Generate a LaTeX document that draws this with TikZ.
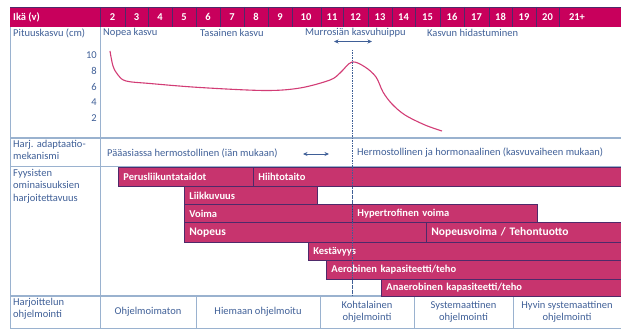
\documentclass[tikz,border=0pt]{standalone}
\usepackage{fontspec}
\setmainfont{Carlito}
\usetikzlibrary{arrows.meta}
\definecolor{hdr}{HTML}{C8005C}
\definecolor{barfill}{HTML}{C7346E}
\definecolor{barline}{HTML}{4E2A6A}
\definecolor{gridc}{HTML}{9AB2CF}
\definecolor{txt}{HTML}{3F5F97}
\definecolor{curvec}{HTML}{D23C75}
\begin{document}
\begin{tikzpicture}[x=1pt,y=-1pt,
  lbl/.style={font=\fontsize{10.5}{12.5}\selectfont, text=txt, inner sep=0pt},
  hnum/.style={font=\fontsize{10.5}{12}\selectfont\bfseries, text=white, inner sep=0pt},
  gridline/.style={draw=gridc, line width=1pt},
  hsep/.style={draw=barline, line width=0.8pt},
  barbox/.style={draw=barline, fill=barfill, line width=0.8pt, anchor=north west,
    inner xsep=5pt, inner ysep=0pt, align=left, text=white,
    font=\fontsize{10.5}{12}\selectfont\bfseries},
  bigbar/.style={barbox, font=\fontsize{11.5}{12}\selectfont\bfseries},
  dbl/.style={{Stealth[length=4.5pt,width=4pt]}-{Stealth[length=4.5pt,width=4pt]}, draw=txt, line width=0.9pt}
]
\useasboundingbox (0,0) rectangle (621,329);
% grid
\draw[gridline] (10,7) -- (10,328);
\draw[gridline] (100,27) -- (100,328);
\draw[gridline] (10,27) -- (621,27);
\draw[gridline, line width=1.8pt] (10,138) -- (621,138);
\draw[gridline] (10,166) -- (621,166);
\draw[gridline, line width=1.5pt] (10,296) -- (621,296);
\draw[gridline] (10,328) -- (621,328);
\foreach \x in {196,320,414,513} \draw[gridline] (\x,296) -- (\x,328);
% header
\fill[hdr] (10,7) rectangle (621,27);
\draw[hsep] (10,7) -- (621,7);
\foreach \x in {100,125,148,172,196,220,244,268,292,321,343,368,392,415,440,464,489,512,536,559}
  \draw[hsep] (\x,7) -- (\x,27);
\node[hnum, anchor=west] (h0) at (13,17) {Ikä (v)};
\foreach \n/\c in {2/112.5,3/136.5,4/160,5/184,6/208,7/232,8/256,9/280,10/306,11/332,12/355.5,13/380,14/403.5,15/427.5,16/452,17/476.5,18/500.5,19/524,20/547.5}
  \node[hnum] (h\n) at (\c,17) {\n};
\node[hnum] (h21) at (577,17) {21+};
% growth row
\node[lbl, anchor=west] (pit) at (13,33) {Pituuskasvu (cm)};
\node[lbl, anchor=west] (g1) at (103,33) {Nopea kasvu};
\node[lbl, anchor=west] (g2) at (200,33) {Tasainen kasvu};
\node[lbl, anchor=west] (g3) at (305,33) {Murrosiän kasvuhuippu};
\node[lbl, anchor=west] (g4) at (427,33) {Kasvun hidastuminen};
\coordinate (a1) at (334,41.5);
\coordinate (a2) at (372,41.5);
\draw[dbl] (a1) -- (a2);
\foreach \v/\y in {10/55,8/71,6/87,4/102,2/118}
  \node[lbl, anchor=east] (y\v) at (97,\y) {\v};
\draw[curvec, line width=1.1pt] plot[smooth, tension=0.55] coordinates {
  (110,51) (113,66) (118,75) (126,81) (150,83.5) (200,87.5) (265,90.5) (300,88)
  (330,80) (340,73) (352,62) (365,67) (376,77) (383,92) (392,104) (405,115) (425,125) (442,131)};
\draw[draw=txt, line width=0.7pt, dash pattern=on 1.5pt off 1pt] (352,50) -- (352,296);
% adaptation row
\node[lbl, anchor=north west, align=left] (adp) at (13,140) {Harj. adaptaatio-\\mekanismi};
\node[lbl, anchor=west] (ad1) at (107,153) {Pääasiassa hermostollinen (iän mukaan)};
\coordinate (b1) at (303,154);
\coordinate (b2) at (329,154);
\draw[dbl] (b1) -- (b2);
\node[lbl, anchor=west] (ad2) at (357,153) {Hermostollinen ja hormonaalinen (kasvuvaiheen mukaan)};
% trainability row
\node[lbl, anchor=north west, align=left] (fyy) at (13,169) {Fyysisten\\ominaisuuksien\\harjoitettavuus};
\node[barbox, minimum width=135pt, minimum height=19pt, text width=125pt] (r1) at (118,167) {Perusliikuntataidot};
\node[barbox, minimum width=368pt, minimum height=19pt, text width=358pt] (r2) at (253,167) {Hiihtotaito};
\node[barbox, minimum width=133pt, minimum height=18pt, text width=123pt] (r3) at (184,186) {Liikkuvuus};
\node[barbox, minimum width=168pt, minimum height=18pt, text width=158pt] (r4) at (184,204) {Voima};
\node[barbox, minimum width=185pt, minimum height=18pt, text width=175pt] (r5) at (352,204) {Hypertrofinen voima};
\node[bigbar, minimum width=242pt, minimum height=20pt, text width=232pt] (r6) at (184,222) {Nopeus};
\node[bigbar, minimum width=195pt, minimum height=20pt, text width=185pt] (r7) at (426,222) {Nopeusvoima / Tehontuotto};
\node[barbox, minimum width=313pt, minimum height=18pt, text width=303pt] (r8) at (308,242) {Kestävyys};
\node[barbox, minimum width=295pt, minimum height=19pt, text width=285pt] (r9) at (326,260) {Aerobinen kapasiteetti/teho};
\node[barbox, minimum width=240pt, minimum height=17pt, text width=230pt] (r10) at (381,279) {Anaerobinen kapasiteetti/teho};
\draw[draw=txt, line width=0.7pt, dash pattern=on 1.5pt off 1pt] (352,167) -- (352,296);
% programming row
\node[lbl, anchor=north west, align=left] (ohj) at (13,298) {Harjoittelun\\ohjelmointi};
\node[lbl, align=center] (p1) at (148,312) {Ohjelmoimaton};
\node[lbl, align=center] (p2) at (258,312) {Hiemaan ohjelmoitu};
\node[lbl, align=center] (p3) at (367,312) {Kohtalainen\\ohjelmointi};
\node[lbl, align=center] (p4) at (463.5,312) {Systemaattinen\\ohjelmointi};
\node[lbl, align=center] (p5) at (567,312) {Hyvin systemaattinen\\ohjelmointi};
\end{tikzpicture}
\end{document}
